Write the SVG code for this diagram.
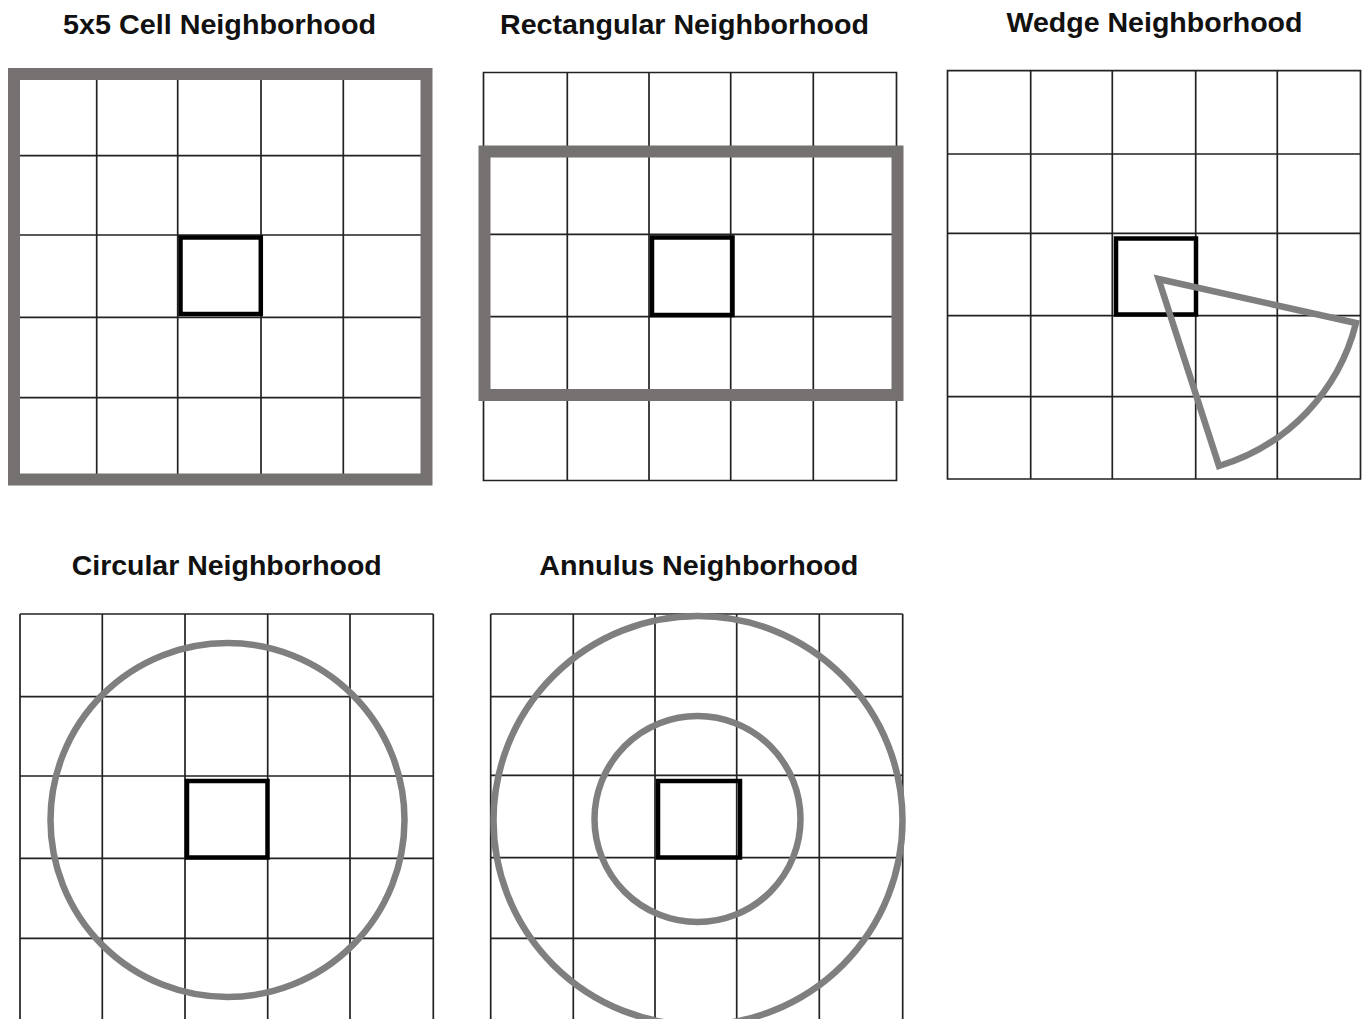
<svg xmlns="http://www.w3.org/2000/svg" width="1364" height="1019" viewBox="0 0 1364 1019">
<style>
.title{font-family:"Liberation Sans",Arial,sans-serif;font-weight:bold;font-size:28.5px;fill:#111;text-anchor:middle}
.grid{fill:none;stroke:#222;stroke-width:1.7}
.frame{fill:none;stroke:#757170;stroke-width:12}
.ring{fill:none;stroke:#7f7f7f;stroke-width:6.5}
.cell{fill:none;stroke:#000;stroke-width:4.5}
</style>
<rect x="0" y="0" width="1364" height="1019" fill="#fff"/>

<g id="panel-5x5">
<text class="title" x="219.5" y="34" textLength="313" lengthAdjust="spacingAndGlyphs">5x5 Cell Neighborhood</text>
<path class="grid" d="M14,74H426V479.5H14Z M96.7,74V479.5 M177.7,74V479.5 M261,74V479.5 M343.3,74V479.5 M14,155.7H426 M14,235H426 M14,317.3H426 M14,397.7H426"/>
<rect class="frame" x="14" y="74" width="412.5" height="405.5"/>
<rect class="cell" x="180.5" y="237.5" width="80.3" height="76.5"/>
</g>

<g id="panel-rectangular">
<text class="title" x="684.5" y="33.5" textLength="369" lengthAdjust="spacingAndGlyphs">Rectangular Neighborhood</text>
<path class="grid" d="M483.5,72.5H896.5V480.5H483.5Z M567.3,72.5V480.5 M649,72.5V480.5 M730.7,72.5V480.5 M813.3,72.5V480.5 M483.5,152H896.5 M483.5,234.3H896.5 M483.5,316.7H896.5 M483.5,396H896.5"/>
<rect class="frame" x="484.5" y="151.5" width="413" height="243.5"/>
<rect class="cell" x="652" y="237.5" width="80.5" height="77.5"/>
</g>

<g id="panel-wedge">
<text class="title" x="1154.5" y="32" textLength="296" lengthAdjust="spacingAndGlyphs">Wedge Neighborhood</text>
<path class="grid" d="M947.5,70.7H1360.5V479H947.5Z M1030.7,70.7V479 M1112.3,70.7V479 M1195.7,70.7V479 M1277.3,70.7V479 M947.5,154H1360.5 M947.5,233.3H1360.5 M947.5,315.7H1360.5 M947.5,396.7H1360.5"/>
<rect class="cell" x="1116" y="238.5" width="80" height="76"/>
<path class="ring" d="M1158.5,279 L1356,323 A200,200 0 0 1 1219,466 Z" stroke-linejoin="miter"/>
</g>

<g id="panel-circular">
<text class="title" x="226.7" y="575" textLength="310" lengthAdjust="spacingAndGlyphs">Circular Neighborhood</text>
<path class="grid" d="M20,614H433.3 M20,614V1030 M433.3,614V1030 M102.3,614V1030 M185,614V1030 M267.7,614V1030 M350,614V1030 M20,696.7H433.3 M20,776H433.3 M20,858.3H433.3 M20,938.3H433.3"/>
<rect class="cell" x="187" y="781" width="80.5" height="76.5"/>
<circle class="ring" cx="227.5" cy="820" r="177"/>
</g>

<g id="panel-annulus">
<text class="title" x="698.8" y="575" textLength="319" lengthAdjust="spacingAndGlyphs">Annulus Neighborhood</text>
<path class="grid" d="M490.7,614H902.7 M490.7,614V1030 M902.7,614V1030 M573.3,614V1030 M655,614V1030 M736.7,614V1030 M819.3,614V1030 M490.7,696.7H902.7 M490.7,775.3H902.7 M490.7,857.7H902.7 M490.7,938.3H902.7"/>
<rect class="cell" x="658" y="781" width="82" height="76.5"/>
<circle class="ring" cx="697.5" cy="819" r="103"/>
<circle class="ring" cx="698" cy="820.5" r="204.5"/>
</g>

<g id="connectors"/>
</svg>
